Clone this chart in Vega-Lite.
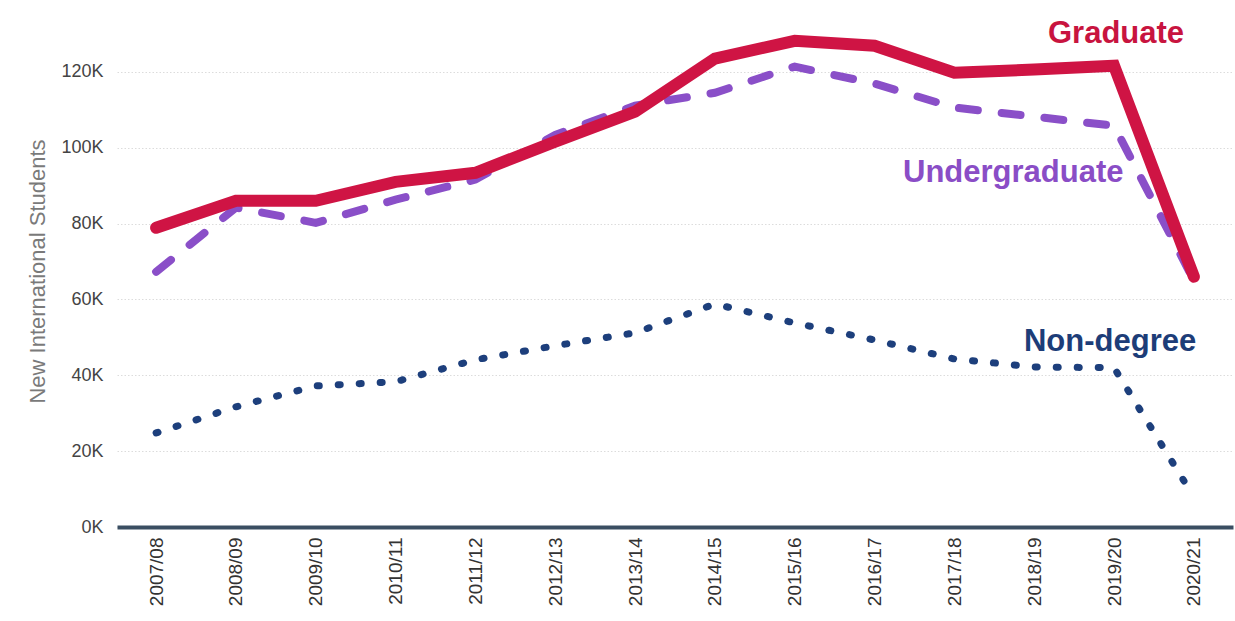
{
  "$schema": "https://vega.github.io/schema/vega-lite/v6.json",
  "width": 1116,
  "height": 512,
  "autosize": {"type": "none"},
  "padding": {"left": 117, "top": 15, "right": 2, "bottom": 94},
  "background": "#ffffff",
  "config": {
    "view": {"stroke": null},
    "font": "Liberation Sans",
    "axis": {"labelFont": "Liberation Sans", "titleFont": "Liberation Sans"}
  },
  "datasets": {
    "students": [
      {"year": "2007/08", "series": "Graduate", "value": 78900},
      {"year": "2008/09", "series": "Graduate", "value": 86000},
      {"year": "2009/10", "series": "Graduate", "value": 86000},
      {"year": "2010/11", "series": "Graduate", "value": 91000},
      {"year": "2011/12", "series": "Graduate", "value": 93400},
      {"year": "2012/13", "series": "Graduate", "value": 101600},
      {"year": "2013/14", "series": "Graduate", "value": 109500},
      {"year": "2014/15", "series": "Graduate", "value": 123500},
      {"year": "2015/16", "series": "Graduate", "value": 128200},
      {"year": "2016/17", "series": "Graduate", "value": 126900},
      {"year": "2017/18", "series": "Graduate", "value": 119800},
      {"year": "2018/19", "series": "Graduate", "value": 120600},
      {"year": "2019/20", "series": "Graduate", "value": 121600},
      {"year": "2020/21", "series": "Graduate", "value": 66000},
      {"year": "2007/08", "series": "Undergraduate", "value": 67300},
      {"year": "2008/09", "series": "Undergraduate", "value": 84200},
      {"year": "2009/10", "series": "Undergraduate", "value": 80200},
      {"year": "2010/11", "series": "Undergraduate", "value": 86300},
      {"year": "2011/12", "series": "Undergraduate", "value": 91600},
      {"year": "2012/13", "series": "Undergraduate", "value": 103400},
      {"year": "2013/14", "series": "Undergraduate", "value": 111100},
      {"year": "2014/15", "series": "Undergraduate", "value": 114500},
      {"year": "2015/16", "series": "Undergraduate", "value": 121400},
      {"year": "2016/17", "series": "Undergraduate", "value": 116900},
      {"year": "2017/18", "series": "Undergraduate", "value": 110600},
      {"year": "2018/19", "series": "Undergraduate", "value": 108200},
      {"year": "2019/20", "series": "Undergraduate", "value": 105800},
      {"year": "2020/21", "series": "Undergraduate", "value": 65000},
      {"year": "2007/08", "series": "Non-degree", "value": 24800},
      {"year": "2008/09", "series": "Non-degree", "value": 31700},
      {"year": "2009/10", "series": "Non-degree", "value": 37200},
      {"year": "2010/11", "series": "Non-degree", "value": 38300},
      {"year": "2011/12", "series": "Non-degree", "value": 44100},
      {"year": "2012/13", "series": "Non-degree", "value": 47800},
      {"year": "2013/14", "series": "Non-degree", "value": 51200},
      {"year": "2014/15", "series": "Non-degree", "value": 58800},
      {"year": "2015/16", "series": "Non-degree", "value": 53800},
      {"year": "2016/17", "series": "Non-degree", "value": 49300},
      {"year": "2017/18", "series": "Non-degree", "value": 44300},
      {"year": "2018/19", "series": "Non-degree", "value": 42200},
      {"year": "2019/20", "series": "Non-degree", "value": 42000},
      {"year": "2020/21", "series": "Non-degree", "value": 7900}
    ],
    "labels": [
      {"series": "Graduate", "year": "2019/20", "value": 127700},
      {"series": "Undergraduate", "year": "2018/19", "value": 91000},
      {"series": "Non-degree", "year": "2019/20", "value": 46400}
    ]
  },
  "encoding": {
    "x": {
      "field": "year",
      "type": "ordinal",
      "sort": null,
      "scale": {"type": "point", "padding": 0.49},
      "axis": {
        "title": null,
        "labelAngle": -90,
        "labelFontSize": 19,
        "labelColor": "#333333",
        "labelPadding": 10,
        "ticks": false,
        "grid": false,
        "domainColor": "#3a4e62",
        "domainWidth": 4
      }
    },
    "y": {
      "field": "value",
      "type": "quantitative",
      "scale": {"domain": [0, 135000], "nice": false},
      "axis": {
        "title": "New International Students",
        "titleFontSize": 22,
        "titleFontWeight": "normal",
        "titleColor": "#7a7a7a",
        "titlePadding": 11,
        "values": [0, 20000, 40000, 60000, 80000, 100000, 120000],
        "labelExpr": "(datum.value / 1000) + 'K'",
        "labelFontSize": 18,
        "labelColor": "#444444",
        "labelPadding": 14,
        "ticks": false,
        "domain": false,
        "grid": true,
        "gridColor": "#dcdcdc",
        "gridDash": [1.5, 2],
        "gridWidth": 1
      }
    }
  },
  "layer": [
    {
      "data": {"name": "students"},
      "transform": [{"filter": "datum.series === 'Non-degree'"}],
      "mark": {"type": "line", "color": "#1d3f7c", "strokeWidth": 7, "strokeDash": [2, 19], "strokeCap": "round"}
    },
    {
      "data": {"name": "students"},
      "transform": [{"filter": "datum.series === 'Undergraduate'"}],
      "mark": {"type": "line", "color": "#8a4fc8", "strokeWidth": 8, "strokeDash": [19, 24], "strokeCap": "round"}
    },
    {
      "data": {"name": "students"},
      "transform": [{"filter": "datum.series === 'Graduate'"}],
      "mark": {"type": "line", "color": "#cf1444", "strokeWidth": 12, "strokeCap": "round"}
    },
    {
      "data": {"name": "labels"},
      "transform": [{"filter": "datum.series === 'Graduate'"}],
      "mark": {"type": "text", "color": "#c8143f", "fontSize": 31, "fontWeight": "bold", "align": "center", "baseline": "alphabetic", "dx": 2},
      "encoding": {"text": {"field": "series"}}
    },
    {
      "data": {"name": "labels"},
      "transform": [{"filter": "datum.series === 'Undergraduate'"}],
      "mark": {"type": "text", "color": "#8a4dc6", "fontSize": 31, "fontWeight": "bold", "align": "center", "baseline": "alphabetic", "dx": -21},
      "encoding": {"text": {"field": "series"}}
    },
    {
      "data": {"name": "labels"},
      "transform": [{"filter": "datum.series === 'Non-degree'"}],
      "mark": {"type": "text", "color": "#1d3d78", "fontSize": 31, "fontWeight": "bold", "align": "center", "baseline": "alphabetic", "dx": -4},
      "encoding": {"text": {"field": "series"}}
    }
  ]
}
